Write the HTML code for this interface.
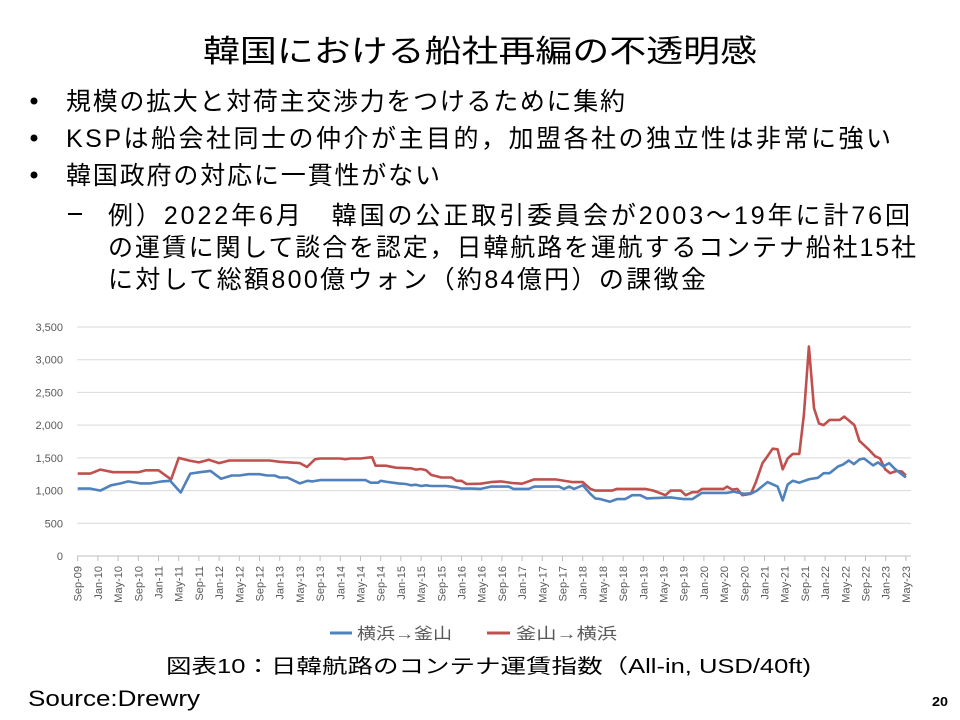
<!DOCTYPE html>
<html><head><meta charset="utf-8"><style>
html,body{margin:0;padding:0;background:#fff}
svg{display:block}
text{font-family:"Liberation Sans","Noto Sans CJK JP",sans-serif}
</style></head><body>
<svg id="s" width="960" height="720" xmlns="http://www.w3.org/2000/svg">
<text x="480" y="62" font-size="31" text-anchor="middle" textLength="554" lengthAdjust="spacingAndGlyphs">韓国における船社再編の不透明感</text>
<g font-size="25" fill="#000">
<circle cx="34" cy="101" r="3.5"/><circle cx="34" cy="138" r="3.5"/><circle cx="34" cy="175" r="3.5"/>
<text x="66" y="110" textLength="559" lengthAdjust="spacing">規模の拡大と対荷主交渉力をつけるために集約</text>
<text x="66" y="147" textLength="825" lengthAdjust="spacing">KSPは船会社同士の仲介が主目的，加盟各社の独立性は非常に強い</text>
<text x="66" y="184" textLength="374" lengthAdjust="spacing">韓国政府の対応に一貫性がない</text>
<rect x="68" y="213" width="14" height="2"/>
<text x="108" y="224" textLength="802" lengthAdjust="spacing">例）2022年6月　韓国の公正取引委員会が2003～19年に計76回</text>
<text x="108" y="256" textLength="808" lengthAdjust="spacing">の運賃に関して談合を認定，日韓航路を運航するコンテナ船社15社</text>
<text x="108" y="288" textLength="598" lengthAdjust="spacing">に対して総額800億ウォン（約84億円）の課徴金</text>
</g>
<g id="grid" stroke="#d9d9d9" stroke-width="1"></g>
<g id="yl" font-size="11" fill="#595959" text-anchor="end"></g>
<g id="xl" font-size="11" fill="#595959"></g>
<polyline id="red" fill="none" stroke="#c0504d" stroke-width="2.6" stroke-linejoin="round"/>
<polyline id="blue" fill="none" stroke="#4f81bd" stroke-width="2.6" stroke-linejoin="round"/>
<line x1="330" y1="633" x2="352" y2="633" stroke="#4f81bd" stroke-width="3"/>
<text x="357" y="639" font-size="16" fill="#595959" textLength="95" lengthAdjust="spacingAndGlyphs">横浜→釜山</text>
<line x1="487" y1="633" x2="510" y2="633" stroke="#c0504d" stroke-width="3"/>
<text x="516" y="639" font-size="16" fill="#595959" textLength="101" lengthAdjust="spacingAndGlyphs">釜山→横浜</text>
<text x="166" y="673" font-size="20" textLength="645" lengthAdjust="spacingAndGlyphs">図表10：日韓航路のコンテナ運賃指数（All-in, USD/40ft)</text>
<text x="28" y="706" font-size="22" textLength="172" lengthAdjust="spacingAndGlyphs">Source:Drewry</text>
<text x="932" y="706" font-size="13" font-weight="bold" textLength="16" lengthAdjust="spacingAndGlyphs">20</text>
</svg>
<script>
var NS="http://www.w3.org/2000/svg";
function X(m){return 77.7+m*5.05;}
function Y(v){return 556-v*0.06543;}
var g=document.getElementById('grid'),yl=document.getElementById('yl'),xl=document.getElementById('xl');
for(var v=0;v<=3500;v+=500){var l=document.createElementNS(NS,'line');l.setAttribute('x1',77);l.setAttribute('x2',911);l.setAttribute('y1',Y(v));l.setAttribute('y2',Y(v));if(v==0)l.setAttribute('stroke','#bfbfbf');g.appendChild(l);
var t=document.createElementNS(NS,'text');t.setAttribute('x',63);t.setAttribute('y',Y(v)+4);t.textContent=v.toLocaleString('en-US');yl.appendChild(t);}
var mn=['Jan','May','Sep'];
for(var i=0;i<=41;i++){var m=i*4;var x=X(m);
var tk=document.createElementNS(NS,'line');tk.setAttribute('x1',x);tk.setAttribute('x2',x);tk.setAttribute('y1',556);tk.setAttribute('y2',561);tk.setAttribute('stroke','#bfbfbf');g.appendChild(tk);
var yr=9+Math.floor((m+8)/12);var mo=mn[((m+8)%12)/4];
var t=document.createElementNS(NS,'text');t.setAttribute('transform','translate('+(x+4)+',566) rotate(-90)');t.setAttribute('text-anchor','end');t.textContent=mo+'-'+(yr<10?'0'+yr:yr);xl.appendChild(t);}
var red=[[0,1260],[2.5,1260],[4.5,1320],[7,1280],[12,1280],[13.5,1310],[16,1310],[18.5,1170],[20,1500],[22,1460],[24,1430],[26,1470],[28,1420],[30,1460],[38,1460],[40,1440],[42,1430],[44,1420],[45.4,1360],[47,1480],[48,1490],[52,1490],[53,1480],[54,1490],[56,1490],[58.3,1510],[59,1380],[61,1380],[63,1350],[66,1340],[67,1320],[68,1330],[69,1310],[70,1240],[72,1200],[74,1200],[75,1150],[76,1150],[77,1100],[79.8,1105],[81.8,1130],[83.8,1140],[86,1115],[88,1105],[90.4,1170],[94.6,1170],[98,1130],[100,1130],[101.5,1025],[102.5,1000],[105.8,1000],[106.8,1025],[112.4,1025],[114,1000],[116.4,930],[117.4,1000],[119.4,1000],[120.4,930],[121.7,975],[122.7,975],[123.6,1025],[127.9,1025],[128.6,1060],[129.6,1015],[130.6,1025],[131.6,930],[133.3,950],[134.3,1130],[135.6,1420],[136.6,1525],[137.6,1640],[138.6,1630],[139.6,1325],[140.6,1490],[141.6,1560],[142.9,1560],[143.8,2160],[144.8,3200],[145.8,2260],[146.8,2025],[147.7,2000],[148.9,2080],[150.9,2080],[151.8,2130],[153.8,2000],[154.8,1760],[156.6,1630],[157.9,1525],[158.9,1490],[159.9,1325],[160.9,1265],[162.2,1300],[163.2,1290],[164,1230]];
var blue=[[0,1030],[2.5,1030],[4.5,1000],[6.6,1080],[8.5,1110],[10,1140],[12.4,1110],[14.4,1110],[16.7,1140],[18.3,1150],[20.4,970],[22.3,1260],[24.2,1280],[26.3,1300],[28.4,1180],[30.5,1230],[32,1230],[33.8,1250],[36,1250],[37.5,1230],[39,1230],[40,1200],[41.5,1200],[44,1110],[45.5,1150],[46.5,1140],[48,1160],[57,1160],[58,1120],[59.5,1120],[60,1150],[61.5,1130],[63.5,1110],[65,1100],[66,1080],[67,1090],[68,1070],[69,1080],[70,1070],[73,1070],[75,1050],[76,1030],[78,1030],[79.8,1025],[81.8,1060],[85.3,1060],[86.3,1025],[89.3,1025],[90.4,1060],[95.3,1060],[96.3,1025],[97.3,1060],[98.3,1025],[100,1080],[101.5,950],[102.5,880],[103.5,870],[105.4,830],[106.8,870],[108.4,870],[109.8,930],[111.4,930],[112.7,880],[114.4,885],[117.4,895],[120,870],[121.7,870],[123.6,965],[128.6,965],[129.9,985],[131.9,950],[133.5,960],[134.5,1000],[136.6,1130],[138.6,1060],[139.6,850],[140.6,1095],[141.6,1150],[142.9,1120],[144.9,1175],[146.6,1195],[147.7,1265],[148.9,1265],[150.6,1370],[151.5,1395],[152.7,1460],[153.7,1405],[154.8,1475],[155.7,1490],[157.5,1385],[158.5,1430],[159.5,1370],[160.7,1420],[161.9,1325],[164,1200]];
function pts(a){return a.map(function(p){return X(p[0]).toFixed(1)+','+Y(p[1]).toFixed(1)}).join(' ');}
document.getElementById('red').setAttribute('points',pts(red));
document.getElementById('blue').setAttribute('points',pts(blue));
</script>
</body></html>
